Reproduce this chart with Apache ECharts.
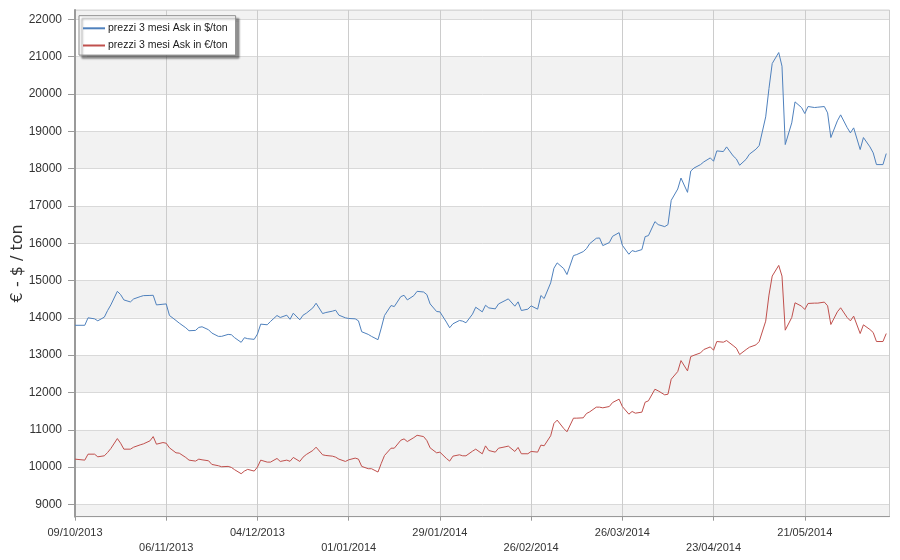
<!DOCTYPE html>
<html>
<head>
<meta charset="utf-8">
<script src="https://cdn.jsdelivr.net/npm/echarts@6/dist/echarts.min.js"></script>
<style>
html,body{margin:0;padding:0;background:#fff;}
#chart{width:900px;height:560px;}
</style>
</head>
<body>
<div id="chart"></div>
<script>
const dates = [
'2013-10-09','2013-10-12','2013-10-13','2013-10-15','2013-10-16','2013-10-18','2013-10-19','2013-10-20','2013-10-22','2013-10-23',
'2013-10-24','2013-10-26','2013-10-27','2013-10-29','2013-10-30','2013-11-01','2013-11-02','2013-11-03','2013-11-05','2013-11-06',
'2013-11-07','2013-11-09','2013-11-10','2013-11-12','2013-11-13','2013-11-15','2013-11-16','2013-11-17','2013-11-19','2013-11-20',
'2013-11-22','2013-11-23','2013-11-25','2013-11-26','2013-11-27','2013-11-29','2013-11-30','2013-12-01','2013-12-03','2013-12-04',
'2013-12-05','2013-12-07','2013-12-08','2013-12-10','2013-12-11','2013-12-13','2013-12-14','2013-12-15','2013-12-17','2013-12-18',
'2013-12-19','2013-12-21','2013-12-22','2013-12-24','2013-12-25','2013-12-27','2013-12-28','2013-12-29','2013-12-31','2014-01-01',
'2014-01-03','2014-01-04','2014-01-05','2014-01-07','2014-01-08','2014-01-10','2014-01-11','2014-01-12','2014-01-14','2014-01-15',
'2014-01-17','2014-01-18','2014-01-19','2014-01-21','2014-01-22','2014-01-24','2014-01-25','2014-01-26','2014-01-28','2014-01-29',
'2014-01-31','2014-02-01','2014-02-02','2014-02-04','2014-02-05','2014-02-06','2014-02-08','2014-02-09','2014-02-11','2014-02-12',
'2014-02-13','2014-02-15','2014-02-16','2014-02-18','2014-02-19','2014-02-21','2014-02-22','2014-02-23','2014-02-25','2014-02-26',
'2014-02-28','2014-03-01','2014-03-02','2014-03-04','2014-03-05','2014-03-06','2014-03-08','2014-03-09','2014-03-11','2014-03-12',
'2014-03-14','2014-03-15','2014-03-16','2014-03-18','2014-03-19','2014-03-20','2014-03-22','2014-03-23','2014-03-25','2014-03-26',
'2014-03-28','2014-03-29','2014-03-30','2014-04-01','2014-04-02','2014-04-03','2014-04-05','2014-04-06','2014-04-08','2014-04-09',
'2014-04-10','2014-04-12','2014-04-13','2014-04-15','2014-04-16','2014-04-17','2014-04-19','2014-04-20','2014-04-22','2014-04-23',
'2014-04-24','2014-04-26','2014-04-27','2014-04-29','2014-04-30','2014-05-01','2014-05-03','2014-05-04','2014-05-06','2014-05-07',
'2014-05-09','2014-05-10','2014-05-11','2014-05-13','2014-05-14','2014-05-15','2014-05-17','2014-05-18','2014-05-20','2014-05-21',
'2014-05-22','2014-05-24','2014-05-25','2014-05-27','2014-05-28','2014-05-29','2014-05-31','2014-06-01','2014-06-03','2014-06-04',
'2014-06-05','2014-06-07','2014-06-08','2014-06-10','2014-06-11','2014-06-12','2014-06-14','2014-06-15'
];

const usdValues = [
13800,13800,14000,13973,13920,14018,14195,14346,14710,14622,
14480,14426,14506,14568,14595,14600,14604,14346,14364,14373,
14062,13929,13858,13734,13654,13663,13743,13760,13680,13592,
13503,13503,13556,13547,13467,13343,13467,13441,13423,13565,
13831,13814,13902,14062,14009,14071,13960,14124,13947,14071,
14124,14266,14391,14115,14142,14178,14204,14071,14000,13982,
13973,13920,13627,13556,13503,13414,13725,14062,14329,14302,
14568,14604,14480,14595,14710,14692,14622,14373,14169,14160,
13885,13734,13840,13929,13911,13867,14098,14284,14160,14337,
14266,14240,14373,14462,14508,14312,14428,14196,14232,14321,
14232,14598,14517,14937,15329,15472,15320,15160,15668,15695,
15775,15855,15989,16132,16141,15936,16016,16185,16283,15944,
15704,15802,15775,15829,16177,16203,16578,16498,16444,16498,
17149,17452,17747,17363,17934,18015,18107,18179,18286,18197,
18474,18456,18581,18340,18259,18089,18250,18385,18519,18617,
19386,20145,20816,21110,20744,18644,19225,19788,19636,19475,
19663,19636,19645,19663,19493,18832,19279,19440,19100,18957,
19091,18510,18832,18582,18421,18107,18107,18402
];

const eurValues = [
10213,10186,10346,10346,10275,10302,10391,10497,10764,10639,
10480,10480,10533,10595,10622,10702,10817,10613,10657,10639,
10515,10382,10373,10258,10186,10160,10213,10195,10169,10071,
10036,10009,10018,9991,9929,9822,9893,9938,9893,10000,
10186,10133,10133,10231,10151,10186,10155,10258,10151,10266,
10337,10444,10533,10329,10311,10293,10266,10213,10151,10195,
10240,10213,10018,9956,9956,9867,10098,10311,10506,10506,
10719,10755,10684,10790,10852,10817,10710,10515,10382,10400,
10231,10160,10293,10329,10302,10302,10426,10480,10355,10568,
10444,10400,10506,10542,10562,10419,10526,10357,10357,10419,
10401,10589,10571,10838,11169,11258,11035,10946,11311,11311,
11320,11436,11481,11606,11606,11588,11623,11730,11820,11623,
11418,11490,11445,11472,11739,11775,12087,12043,11936,11953,
12355,12560,12854,12578,12961,12997,13060,13150,13221,13132,
13365,13347,13391,13257,13186,13016,13150,13212,13275,13365,
13910,14609,15119,15405,15119,13669,14009,14403,14313,14224,
14385,14394,14394,14421,14322,13821,14161,14269,14009,13919,
14045,13579,13812,13687,13606,13365,13365,13579
];

const seriesNames = ['prezzi 3 mesi Ask in $/ton', 'prezzi 3 mesi Ask in €/ton'];
const yAxisTitle = '€ - $ / ton';
const xStart = '2013-10-09';
const xEnd = '2014-06-16';
const tickDays = 28;
const yMin = 8670;
const yMax = 22250;

const toTime = s => Date.parse(s + 'T00:00:00Z');
const DAY = 86400000;
const xMin = toTime(xStart);
const xMax = toTime(xEnd);
const xInterval = tickDays * DAY;

function fmtDate(v) {
  const d = new Date(v);
  const dd = String(d.getUTCDate()).padStart(2, '0');
  const mm = String(d.getUTCMonth() + 1).padStart(2, '0');
  return dd + '/' + mm + '/' + d.getUTCFullYear();
}

const usdData = dates.map((d, i) => [toTime(d), usdValues[i]]);
const eurData = dates.map((d, i) => [toTime(d), eurValues[i]]);

const chart = echarts.init(document.getElementById('chart'), null, { renderer: 'canvas' });
chart.setOption({
  animation: false,
  backgroundColor: '#ffffff',
  textStyle: { fontFamily: 'Liberation Sans' },
  grid: {
    left: 75, right: 10.5, top: 10, bottom: 43.3,
    containLabel: false,
    outerBoundsMode: 'none',
    show: true, borderColor: '#d4d4d4', borderWidth: 1
  },
  legend: {
    orient: 'vertical',
    left: 79, top: 15.7,
    padding: [7, 8, 4, 3],
    itemWidth: 22, itemHeight: 14, itemGap: 6,
    backgroundColor: '#ffffff',
    borderColor: '#8c8c8c', borderWidth: 1,
    shadowColor: 'rgba(0,0,0,0.45)', shadowBlur: 2, shadowOffsetX: 3, shadowOffsetY: 3,
    itemStyle: { opacity: 0 },
    textStyle: { fontSize: 10.5, color: '#1a1a1a', fontFamily: 'Liberation Sans', padding: [0, 0, 0, -2] },
    data: seriesNames
  },
  xAxis: {
    type: 'value',
    min: xMin, max: xMax, interval: xInterval,
    axisLine: { show: true, lineStyle: { color: '#999999', width: 1 } },
    axisTick: { show: true, length: 4, lineStyle: { color: '#999999' } },
    axisLabel: {
      fontSize: 11, color: '#333333', margin: 9, lineHeight: 15,
      showMaxLabel: false,
      formatter: function (v, idx) {
        if ((v - xMin) % xInterval !== 0) return '';
        const s = fmtDate(v);
        return idx % 2 ? '\n' + s : s;
      }
    },
    splitLine: { show: true, lineStyle: { color: '#cccccc', width: 1 } }
  },
  yAxis: {
    type: 'value',
    min: yMin, max: yMax, splitNumber: 13, minInterval: 1000, maxInterval: 1000,
    name: yAxisTitle,
    nameLocation: 'middle',
    nameGap: 49,
    nameMoveOverlap: false,
    nameTextStyle: { fontSize: 16, color: '#333333', fontFamily: 'DejaVu Sans' },
    axisLine: { show: true, lineStyle: { color: '#9a9a9a', width: 2 } },
    axisTick: { show: true, length: 7, lineStyle: { color: '#9a9a9a' } },
    axisLabel: {
      fontSize: 12, color: '#333333', margin: 13,
      showMinLabel: false, showMaxLabel: false,
      formatter: function (v) { return v % 1000 === 0 ? String(v) : ''; }
    },
    splitLine: { show: true, lineStyle: { color: '#d9d9d9', width: 1 } },
    splitArea: { show: true, areaStyle: { color: ['#f2f2f2', '#ffffff'] } }
  },
  series: [
    {
      name: seriesNames[0], type: 'line', data: usdData,
      showSymbol: false, symbol: 'none',
      lineStyle: { color: '#4f81bd', width: 1 }, itemStyle: { color: '#4f81bd' }
    },
    {
      name: seriesNames[1], type: 'line', data: eurData,
      showSymbol: false, symbol: 'none',
      lineStyle: { color: '#c0504d', width: 1 }, itemStyle: { color: '#c0504d' }
    }
  ]
});
</script>
</body>
</html>
